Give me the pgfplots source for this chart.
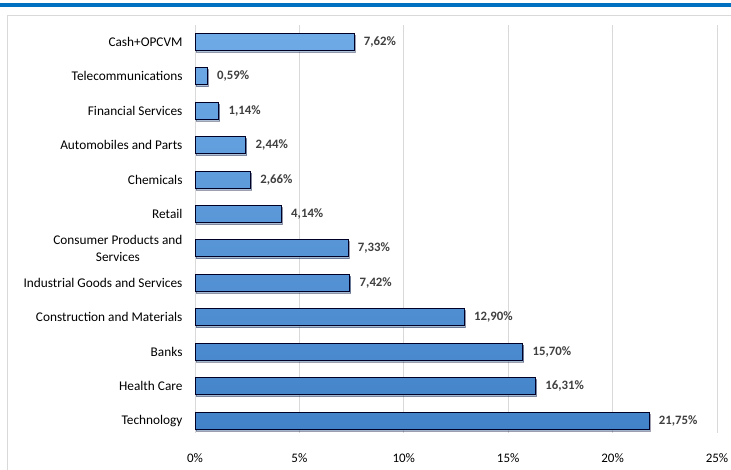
\documentclass[border=0pt]{standalone}
\usepackage{fontspec}
\setmainfont{Carlito}
\usepackage{pgfplots}
\pgfplotsset{compat=1.18}
\usetikzlibrary{shadows}
\definecolor{band}{RGB}{0,112,192}
\definecolor{framec}{RGB}{217,217,217}
\definecolor{gridc}{RGB}{217,217,217}
\definecolor{bartop}{RGB}{110,170,230}
\definecolor{barbot}{RGB}{66,130,200}
\definecolor{txt}{RGB}{64,64,64}
\begin{document}
\begin{tikzpicture}[x=1pt,y=1pt]
\useasboundingbox (0,0) rectangle (731,470);
\fill[band] (0,463) rectangle (731,467);
\draw[framec,line width=1pt] (7.5,0) -- (7.5,454.5) -- (731,454.5);
\begin{axis}[
  at={(195pt,37pt)}, anchor=south west,
  scale only axis, width=522pt, height=408pt,
  xbar, bar width=17pt,
  xmin=0, xmax=25,
  ymin=-0.36, ymax=11.49,
  xtick={0,5,10,15,20,25},
  xticklabel={\pgfmathprintnumber{\tick}\%},
  /pgf/number format/assume math mode=true,
  ytick={0,...,11},
  yticklabels={Technology,Health Care,Banks,Construction and Materials,Industrial Goods and Services,{Consumer Products and\\Services},Retail,Chemicals,Automobiles and Parts,Financial Services,Telecommunications,Cash+OPCVM},
  yticklabel style={align=center, font=\fontsize{13.3}{16.5}\selectfont, text=black, xshift=-9pt},
  xticklabel style={font=\fontsize{13}{16}\selectfont, text=black, yshift=-17pt},
  major tick length=0pt,
  axis line style={draw=none},
  xmajorgrids, grid style={gridc, line width=0.8pt},
  point meta=explicit symbolic,
  nodes near coords,
  nodes near coords style={font=\bfseries\fontsize{12.8}{15}\selectfont, text=txt, anchor=west, xshift=6pt},
  clip=false,
]
\addplot[draw=black!85!blue, line width=0.9pt, top color=bartop, bottom color=barbot,
  drop shadow={shadow xshift=1pt, shadow yshift=-2pt, opacity=0.35}]
  table[x=v, y=y, meta=l] {
  y v l
  0 21.75 21,75\%
  1 16.31 16,31\%
  2 15.70 15,70\%
  3 12.90 12,90\%
  4 7.42 7,42\%
  5 7.33 7,33\%
  6 4.14 4,14\%
  7 2.66 2,66\%
  8 2.44 2,44\%
  9 1.14 1,14\%
  10 0.59 0,59\%
  11 7.62 7,62\%
  };
\end{axis}
\end{tikzpicture}
\end{document}
